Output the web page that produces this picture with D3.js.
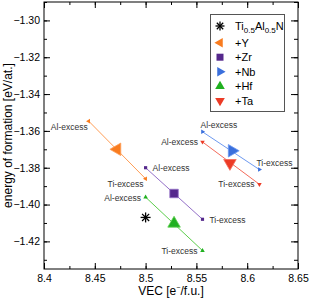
<!DOCTYPE html>
<html>
<head>
<meta charset="utf-8">
<script src="https://cdn.jsdelivr.net/npm/d3@7"></script>
<style>
  body { margin: 0; background: #fff; }
  svg { display: block; font-family: "Liberation Sans", Arial, sans-serif; }
</style>
</head>
<body>
<div id="chart"></div>
<script>
const width = 311
const height = 299
const margin = { top: 2, bottom: 30, left: 44, right: 13 }

// Datos
const systems = ["+Y", "+Zr", "+Nb", "+Hf", "+Ta"]
const vecAl = [8.444, 8.5, 8.556, 8.5, 8.556]
const eAl = [-1.3547, -1.380, -1.3605, -1.396, -1.366]
const vecMid = [8.472, 8.528, 8.585, 8.528, 8.583]
const eMid = [-1.370, -1.394, -1.3708, -1.4103, -1.3775]
const vecTi = [8.5, 8.556, 8.612, 8.556, 8.612]
const eTi = [-1.386, -1.408, -1.381, -1.425, -1.389]
const refVec = [8.5]
const refE = [-1.407]
const xTicks = [8.4, 8.45, 8.5, 8.55, 8.6, 8.65]
const yTicks = [-1.30, -1.32, -1.34, -1.36, -1.38, -1.40, -1.42]

// estilos
const markerColor = ["#f97c1f", "#55288c", "#3a6fdc", "#20b020", "#ec3b26"]
const lineColor = ["#ff9d55", "#9470c8", "#6d99f0", "#5cce4c", "#f46b5b"]
const shapes = ["left", "square", "right", "up", "down"]
// posicion de las etiquetas: [anchor, dx, dy]
const alLabelPos = [["end", -1, 9], ["start", 7, 3.5], ["start", -2, -4], ["end", -4.5, 3.5], ["end", -4.5, 3.5]]
const tiLabelPos = [["end", -2, 8], ["start", 7, 3.5], ["start", -3, -4], ["end", -5, 3.5], ["end", -5, 2.5]]

const svg = d3.select("#chart").append("svg")
  .attr("width", width).attr("height", height)

const iw = width - margin.left - margin.right
const ih = height - margin.top - margin.bottom

const g = svg.append("g").attr("transform", `translate(${margin.left},${margin.top})`)

const x = d3.scaleLinear().domain([8.4, 8.65]).range([0, iw])
const y = d3.scaleLinear().domain([-1.435, -1.29]).range([ih, 0])

const xMinor = d3.range(8.4, 8.651, 0.025)
const yMinor = d3.range(-1.43, -1.289, 0.01)

// ejes con ticks hacia dentro
function styleAxis(sel) {
  sel.select(".domain").remove()
  sel.selectAll("line").attr("stroke", "#000")
  sel.selectAll("text").attr("fill", "#000").attr("font-size", 10.5)
}
g.append("g").attr("transform", `translate(0,${ih})`)
  .call(d3.axisBottom(x).tickValues(xMinor).tickSize(-3).tickFormat(""))
  .call(styleAxis)
g.append("g").attr("transform", `translate(0,${ih})`)
  .call(d3.axisBottom(x).tickValues(xTicks).tickSize(-6).tickPadding(6).tickFormat(d3.format("")))
  .call(styleAxis)
g.append("g")
  .call(d3.axisTop(x).tickValues(xMinor).tickSize(-3).tickFormat(""))
  .call(styleAxis)
g.append("g")
  .call(d3.axisTop(x).tickValues(xTicks).tickSize(-6).tickFormat(""))
  .call(styleAxis)
g.append("g")
  .call(d3.axisLeft(y).tickValues(yMinor).tickSize(-3).tickFormat(""))
  .call(styleAxis)
g.append("g")
  .call(d3.axisLeft(y).tickValues(yTicks).tickSize(-6).tickPadding(4).tickFormat(d3.format(".2f")))
  .call(styleAxis)
g.append("g").attr("transform", `translate(${iw},0)`)
  .call(d3.axisRight(y).tickValues(yMinor).tickSize(-4).tickFormat(""))
  .call(styleAxis)
g.append("g").attr("transform", `translate(${iw},0)`)
  .call(d3.axisRight(y).tickValues(yTicks).tickSize(-7).tickFormat(""))
  .call(styleAxis)

g.append("rect").attr("width", iw).attr("height", ih)
  .attr("fill", "none").attr("stroke", "#000").attr("stroke-width", 1)

// titulos
const xt = svg.append("text")
  .attr("x", margin.left + iw / 2).attr("y", 295)
  .attr("text-anchor", "middle").attr("font-size", 12)
xt.append("tspan").text("VEC [e")
xt.append("tspan").attr("dy", -5).attr("font-size", 7).text("−")
xt.append("tspan").attr("dy", 5).text("/f.u.]")

svg.append("text")
  .attr("transform", `translate(12,${margin.top + ih / 2}) rotate(-90)`)
  .attr("text-anchor", "middle").attr("font-size", 12)
  .text("energy of formation [eV/at.]")

// simbolos
const rot = { up: 0, right: 90, down: 180, left: 270, square: 0 }
function drawSymbol(parent, shape, cx, cy, size, fill, stroke) {
  const type = shape === "square" ? d3.symbolSquare : d3.symbolTriangle
  parent.append("path")
    .attr("d", d3.symbol(type, size)())
    .attr("transform", `translate(${cx},${cy}) rotate(${rot[shape]})`)
    .attr("fill", fill)
    .attr("stroke", stroke || "none")
    .attr("stroke-width", stroke ? 0.8 : 0)
}
function drawStar(parent, cx, cy, r) {
  const st = parent.append("g").attr("transform", `translate(${cx},${cy})`)
  for (let k = 0; k < 4; k++) {
    const a = k * Math.PI / 4
    st.append("line")
      .attr("x1", -r * Math.cos(a)).attr("y1", -r * Math.sin(a))
      .attr("x2", r * Math.cos(a)).attr("y2", r * Math.sin(a))
      .attr("stroke", "#000").attr("stroke-width", 1.3)
  }
}

const plot = g.append("g")
systems.forEach((s, i) => {
  plot.append("line")
    .attr("x1", x(vecAl[i])).attr("y1", y(eAl[i]))
    .attr("x2", x(vecTi[i])).attr("y2", y(eTi[i]))
    .attr("stroke", lineColor[i]).attr("stroke-width", 1)
  const small = shapes[i] === "square" ? 10 : 9
  drawSymbol(plot, shapes[i], x(vecAl[i]), y(eAl[i]), small, markerColor[i])
  drawSymbol(plot, shapes[i], x(vecTi[i]), y(eTi[i]), small, markerColor[i])
  const big = shapes[i] === "square" ? 72 : 68
  drawSymbol(plot, shapes[i], x(vecMid[i]), y(eMid[i]), big, markerColor[i], lineColor[i])

  const la = alLabelPos[i], lt = tiLabelPos[i]
  plot.append("text")
    .attr("x", x(vecAl[i]) + la[1]).attr("y", y(eAl[i]) + la[2])
    .attr("text-anchor", la[0]).attr("font-size", 8.5).attr("fill", "#333")
    .text("Al-excess")
  plot.append("text")
    .attr("x", x(vecTi[i]) + lt[1]).attr("y", y(eTi[i]) + lt[2])
    .attr("text-anchor", lt[0]).attr("font-size", 8.5).attr("fill", "#333")
    .text("Ti-excess")
})
refVec.forEach((v, i) => drawStar(plot, x(v), y(refE[i]), 5))

// leyenda
const leg = svg.append("g")
leg.append("rect").attr("x", 210.5).attr("y", 14.5).attr("width", 74).attr("height", 97)
  .attr("fill", "#fff").attr("stroke", "#555").attr("stroke-width", 1)
drawStar(leg, 220, 26, 4.5)
const lt0 = leg.append("text").attr("x", 235).attr("y", 30).attr("font-size", 11)
lt0.append("tspan").text("Ti")
lt0.append("tspan").attr("dy", 3).attr("font-size", 8).text("0.5")
lt0.append("tspan").attr("dy", -3).text("Al")
lt0.append("tspan").attr("dy", 3).attr("font-size", 8).text("0.5")
lt0.append("tspan").attr("dy", -3).text("N")
systems.forEach((s, i) => {
  const yy = 42.7 + i * 14.5
  drawSymbol(leg, shapes[i], 220, yy, shapes[i] === "square" ? 49 : 40, markerColor[i])
  leg.append("text").attr("x", 235).attr("y", yy + 4).attr("font-size", 11).text(s)
})
</script>
</body>
</html>
